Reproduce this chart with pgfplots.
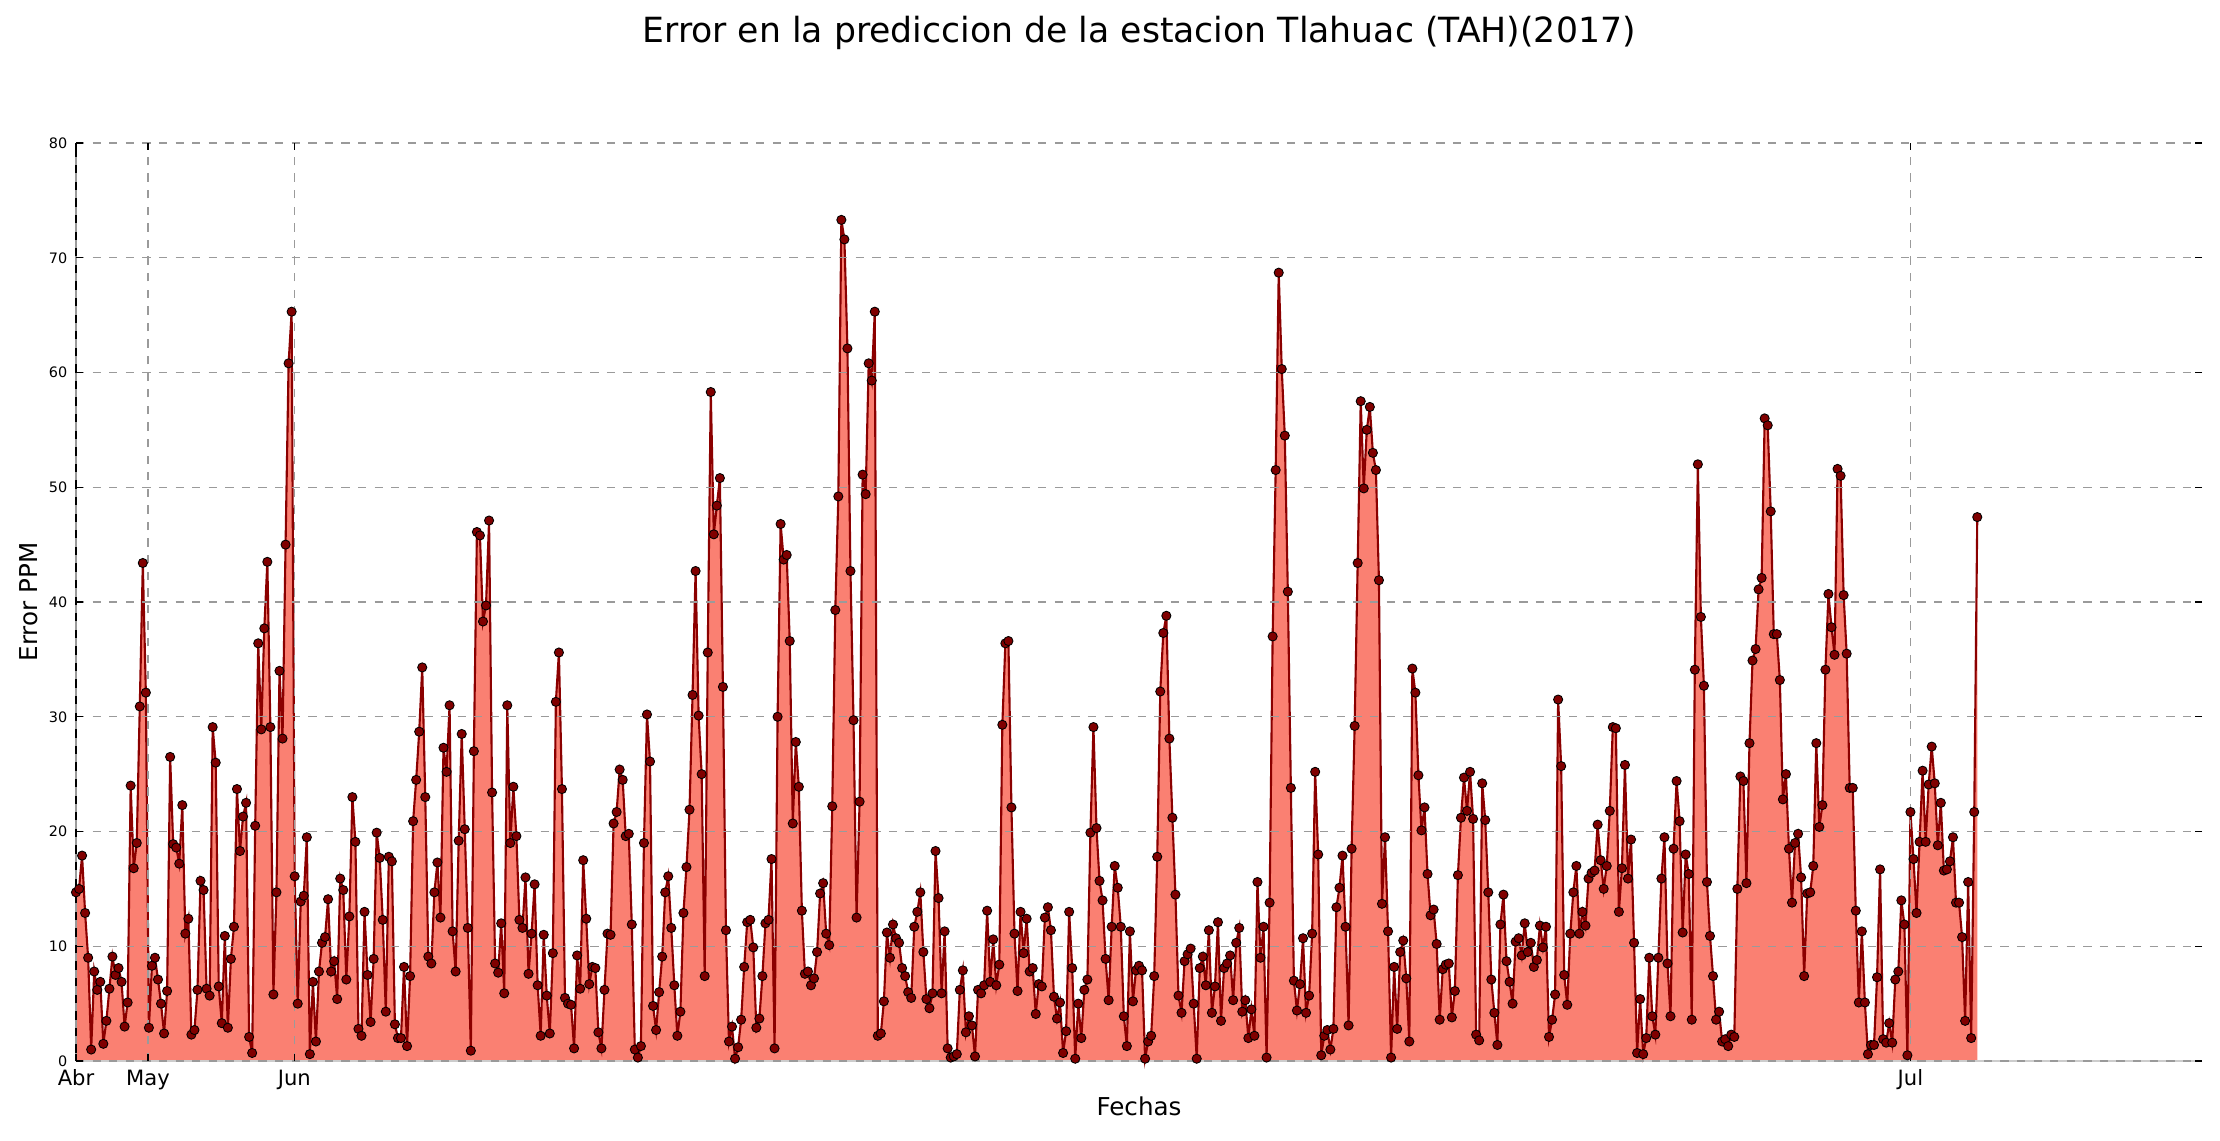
\documentclass[border=0pt]{standalone}
\usepackage{fontspec}
\setmainfont{DejaVu Sans}
\usepackage{pgfplots}
\usepackage{pgfplotstable}
\pgfplotsset{compat=1.18}
\definecolor{salmonfill}{HTML}{FA8072}
\definecolor{linered}{HTML}{8B0000}
\definecolor{markred}{HTML}{800000}
\definecolor{gridgray}{HTML}{9A9A9A}
\definecolor{spinegray}{HTML}{CCCCCC}
\pgfplotstableread[row sep=\\]{
y\\
14.7\\15.0\\17.9\\12.9\\9.0\\1.0\\7.8\\6.2\\6.9\\1.5\\3.5\\6.3\\9.1\\7.5\\8.1\\6.9\\3.0\\5.1\\24.0\\16.8\\19.0\\30.9\\43.4\\32.1\\2.9\\8.3\\9.0\\7.1\\5.0\\2.4\\6.1\\26.5\\18.9\\18.6\\17.2\\22.3\\11.1\\12.4\\2.3\\2.7\\6.2\\15.7\\14.9\\6.3\\5.7\\29.1\\26.0\\6.5\\3.3\\10.9\\2.9\\8.9\\11.7\\23.7\\18.3\\21.3\\22.5\\2.1\\0.7\\
20.5\\36.4\\28.9\\37.7\\43.5\\29.1\\5.8\\14.7\\34.0\\28.1\\45.0\\60.8\\65.3\\16.1\\5.0\\13.9\\14.4\\19.5\\0.6\\6.9\\1.7\\7.8\\10.3\\10.8\\14.1\\7.8\\8.7\\5.4\\15.9\\14.9\\7.1\\12.6\\23.0\\19.1\\2.8\\2.2\\13.0\\7.5\\3.4\\8.9\\19.9\\17.7\\12.3\\4.3\\17.8\\17.4\\3.2\\2.0\\2.0\\8.2\\1.3\\7.4\\20.9\\24.5\\28.7\\34.3\\23.0\\
9.1\\8.5\\14.7\\17.3\\12.5\\27.3\\25.2\\31.0\\11.3\\7.8\\19.2\\28.5\\20.2\\11.6\\0.9\\27.0\\46.1\\45.8\\38.3\\39.7\\47.1\\23.4\\8.5\\7.7\\12.0\\5.9\\31.0\\19.0\\23.9\\19.6\\12.3\\11.6\\16.0\\7.6\\11.1\\15.4\\6.6\\2.2\\11.0\\5.7\\2.4\\9.4\\31.3\\35.6\\23.7\\5.5\\5.0\\4.9\\1.1\\9.2\\6.3\\17.5\\12.4\\6.7\\8.2\\8.1\\2.5\\1.1\\
6.2\\11.1\\11.0\\20.7\\21.7\\25.4\\24.5\\19.6\\19.8\\11.9\\1.0\\0.3\\1.3\\19.0\\30.2\\26.1\\4.8\\2.7\\6.0\\9.1\\14.7\\16.1\\11.6\\6.6\\2.2\\4.3\\12.9\\16.9\\21.9\\31.9\\42.7\\30.1\\25.0\\7.4\\35.6\\58.3\\45.9\\48.4\\50.8\\32.6\\11.4\\1.7\\3.0\\0.2\\1.2\\3.6\\8.2\\12.1\\12.3\\9.9\\2.9\\3.7\\7.4\\12.0\\12.3\\17.6\\1.1\\
30.0\\46.8\\43.7\\44.1\\36.6\\20.7\\27.8\\23.9\\13.1\\7.6\\7.8\\6.6\\7.2\\9.5\\14.6\\15.5\\11.1\\10.1\\22.2\\39.3\\49.2\\73.3\\71.6\\62.1\\42.7\\29.7\\12.5\\22.6\\51.1\\49.4\\60.8\\59.3\\65.3\\2.2\\2.4\\5.2\\11.2\\9.0\\11.9\\10.7\\10.3\\8.1\\7.4\\6.0\\5.5\\11.7\\13.0\\14.7\\9.5\\5.4\\4.6\\5.9\\18.3\\14.2\\5.9\\11.3\\1.1\\0.3\\
0.4\\0.6\\6.2\\7.9\\2.5\\3.9\\3.1\\0.4\\6.2\\5.9\\6.6\\13.1\\6.9\\10.6\\6.6\\8.4\\29.3\\36.4\\36.6\\22.1\\11.1\\6.1\\13.0\\9.4\\12.4\\7.8\\8.1\\4.1\\6.7\\6.5\\12.5\\13.4\\11.4\\5.6\\3.7\\5.1\\0.7\\2.6\\13.0\\8.1\\0.2\\5.0\\2.0\\6.2\\7.1\\19.9\\29.1\\20.3\\15.7\\14.0\\8.9\\5.3\\11.7\\17.0\\15.1\\11.7\\3.9\\1.3\\
11.3\\5.2\\7.9\\8.3\\7.9\\0.2\\1.7\\2.2\\7.4\\17.8\\32.2\\37.3\\38.8\\28.1\\21.2\\14.5\\5.7\\4.2\\8.7\\9.3\\9.8\\5.0\\0.2\\8.1\\9.1\\6.6\\11.4\\4.2\\6.5\\12.1\\3.5\\8.1\\8.5\\9.2\\5.3\\10.3\\11.6\\4.3\\5.3\\2.0\\4.5\\2.2\\15.6\\9.0\\11.7\\0.3\\13.8\\37.0\\51.5\\68.7\\60.3\\54.5\\40.9\\23.8\\7.0\\4.4\\6.7\\
10.7\\4.2\\5.7\\11.1\\25.2\\18.0\\0.5\\2.2\\2.7\\1.0\\2.8\\13.4\\15.1\\17.9\\11.7\\3.1\\18.5\\29.2\\43.4\\57.5\\49.9\\55.0\\57.0\\53.0\\51.5\\41.9\\13.7\\19.5\\11.3\\0.3\\8.2\\2.8\\9.5\\10.5\\7.2\\1.7\\34.2\\32.1\\24.9\\20.1\\22.1\\16.3\\12.7\\13.2\\10.2\\3.6\\8.0\\8.4\\8.5\\3.8\\6.1\\16.2\\21.2\\24.7\\21.8\\25.2\\21.1\\2.3\\
1.8\\24.2\\21.0\\14.7\\7.1\\4.2\\1.4\\11.9\\14.5\\8.7\\6.9\\5.0\\10.4\\10.7\\9.2\\12.0\\9.5\\10.3\\8.2\\8.8\\11.8\\9.9\\11.7\\2.1\\3.6\\5.8\\31.5\\25.7\\7.5\\4.9\\11.1\\14.7\\17.0\\11.1\\13.0\\11.8\\15.9\\16.4\\16.6\\20.6\\17.5\\15.0\\17.0\\21.8\\29.1\\29.0\\13.0\\16.8\\25.8\\15.9\\19.3\\10.3\\0.7\\5.4\\0.6\\
2.0\\9.0\\3.9\\2.3\\9.0\\15.9\\19.5\\8.5\\3.9\\18.5\\24.4\\20.9\\11.2\\18.0\\16.3\\3.6\\34.1\\52.0\\38.7\\32.7\\15.6\\10.9\\7.4\\3.6\\4.3\\1.7\\1.9\\1.3\\2.3\\2.1\\15.0\\24.8\\24.4\\15.5\\27.7\\34.9\\35.9\\41.1\\42.1\\56.0\\55.4\\47.9\\37.2\\37.2\\33.2\\22.8\\25.0\\18.5\\13.8\\19.0\\19.8\\16.0\\7.4\\14.6\\14.7\\17.0\\27.7\\20.4\\22.3\\34.1\\
40.7\\37.8\\35.4\\51.6\\51.0\\40.6\\35.5\\23.8\\23.8\\13.1\\5.1\\11.3\\5.1\\0.6\\1.4\\1.4\\7.3\\16.7\\1.9\\1.6\\3.3\\1.6\\7.1\\7.8\\14.0\\11.9\\0.5\\21.7\\17.6\\12.9\\19.1\\25.3\\19.1\\24.1\\27.4\\24.2\\18.8\\22.5\\16.6\\16.7\\17.4\\19.5\\13.8\\13.8\\10.8\\3.5\\15.6\\2.0\\21.7\\47.4\\
}\datatable
\begin{document}
\begin{tikzpicture}
\begin{axis}[
  scale only axis,
  width=21.26cm, height=9.18cm,
  xmin=0, xmax=700, ymin=0, ymax=80,
  xtick={0,23.7,71.9,604},
  xticklabels={Abr,May,Jun,Jul},
  ytick={0,10,...,80},
  /pgf/number format/assume math mode=true,
  axis line style={draw=none},
  tick align=inside,
  major tick length=0.07cm,
  tick style={black, line width=0.4pt},
  grid=major,
  major grid style={gridgray, line width=0.3pt, dash pattern=on 2.36pt off 2.36pt},
  axis on top,
  every axis title/.style={at={(axis description cs:0.5,1)}, anchor=base, yshift=1.01cm, inner sep=0pt, font=\fontsize{9.86}{11}\selectfont},
  title={Error en la prediccion de la estacion Tlahuac (TAH)(2017)},
  every axis x label/.style={at={(axis description cs:0.5,0)}, anchor=base, yshift=-0.54cm, inner sep=0pt, font=\fontsize{7}{8}\selectfont},
  xlabel={Fechas},
  every axis y label/.style={at={(axis description cs:0,0.5)}, rotate=90, anchor=base, yshift=0.39cm, inner sep=0pt, font=\fontsize{7}{8}\selectfont},
  ylabel={Error PPM},
  yticklabel style={font=\fontsize{4.1}{5}\selectfont, anchor=east, inner sep=0pt, xshift=-0.08cm},
  xticklabel style={font=\fontsize{6}{7}\selectfont, anchor=north, inner sep=0pt, yshift=-0.08cm},
  clip=false,
]
\addplot[draw=none, fill=salmonfill] table[x expr=\coordindex, y=y] {\datatable} \closedcycle;
\addplot[color=linered, line width=0.6pt, mark=*, mark size=1.3pt, mark options={fill=markred, draw=black, line width=0.25pt}] table[x expr=\coordindex, y=y] {\datatable};
\draw[spinegray, line width=0.5pt] (rel axis cs:0,0) -- (rel axis cs:1,0);
\draw[black, line width=0.5pt] (rel axis cs:0,0) -- (rel axis cs:0,1);
\coordinate (SW) at (rel axis cs:0,0);
\coordinate (NE) at (rel axis cs:1,1);
\end{axis}
\pgfresetboundingbox
\path[use as bounding box] ([shift={(-0.76cm,-0.79cm)}]SW) rectangle ([shift={(0.18cm,1.43cm)}]NE);
\end{tikzpicture}
\end{document}
